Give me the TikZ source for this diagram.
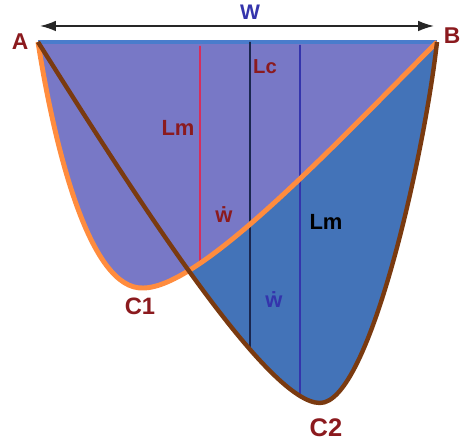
\documentclass[tikz,border=0pt]{standalone}
\usepackage{fontspec}
\setmainfont{Liberation Sans}
\usepackage{tikz}
\usetikzlibrary{arrows.meta, intersections}
\definecolor{mylav}{RGB}{120,120,198}
\definecolor{myblue}{RGB}{67,115,184}
\definecolor{mytop}{RGB}{74,124,204}
\definecolor{myorange}{RGB}{255,140,62}
\definecolor{mybrown}{RGB}{122,58,16}
\definecolor{mydarkred}{RGB}{139,26,30}
\definecolor{myindigo}{RGB}{52,52,172}
\definecolor{mypink}{RGB}{214,46,92}
\definecolor{mynavy}{RGB}{26,38,78}
\tikzset{
  ptlabel/.style={font=\bfseries\fontsize{13}{15}\selectfont, text=mydarkred, inner sep=0pt},
  lenlabel/.style={font=\bfseries\fontsize{12.5}{14}\selectfont, inner sep=0pt},
  orangecurve/.style={draw=myorange, line width=2.8pt},
  browncurve/.style={draw=mybrown, line width=2.5pt},
  vline/.style={line width=0.9pt},
  dimarrow/.style={{Latex[length=9pt,width=6pt]}-{Latex[length=9pt,width=6pt]}, line width=0.9pt, color=black!85}
}

\begin{document}
\begin{tikzpicture}[x=0.02cm, y=-0.02cm]
  \useasboundingbox (0,0) rectangle (464,445);

  % Points
  \coordinate (A) at (38,42);
  \coordinate (B) at (437,42);
  \coordinate (C1min) at (143,288);
  \coordinate (C2min) at (320,403);

  % Areas
  \fill[myblue, name path=c2] (A) .. controls (150,220) and (270,403) .. (C2min)
    .. controls (370,403) and (425,150) .. (B) -- cycle;
  \fill[mylav, name path=c1] (A) .. controls (55,150) and (90,290) .. (C1min)
    .. controls (200,288) and (330,150) .. (B) -- cycle;
  \draw[mytop, line width=2.3pt] (A) -- (B);

  % Lengths
  \path[name path=p1] (200,50) -- (200,440);
  \path[name path=p2] (250,50) -- (250,440);
  \path[name path=p3] (300,50) -- (300,440);
  \path[name intersections={of=p1 and c1, by=e1}];
  \path[name intersections={of=p2 and c2, by=e2}];
  \path[name intersections={of=p3 and c2, by=e3}];
  \coordinate (t1) at (200,46);
  \coordinate (t2) at (250,42);
  \coordinate (t3) at (300,45);
  \draw[vline, mypink] (t1) -- (e1);
  \draw[vline, mynavy] (t2) -- (e2);
  \draw[vline, myindigo] (t3) -- (e3);

  % Curves
  \draw[orangecurve] (A) .. controls (55,150) and (90,290) .. (C1min)
    .. controls (200,288) and (330,150) .. (B);
  \draw[browncurve] (A) .. controls (150,220) and (270,403) .. (C2min)
    .. controls (370,403) and (425,150) .. (B);

  % Width
  \coordinate (Wl) at (40,26);
  \coordinate (Wr) at (434,26);
  \draw[dimarrow] (Wl) -- (Wr);

  % Labels
  \node[lenlabel, text=myindigo, font=\bfseries\fontsize{12}{14}\selectfont] (lW) at (250,12) {W};
  \node[ptlabel] (lA) at (20,42) {A};
  \node[ptlabel] (lB) at (452,36) {B};
  \node[ptlabel, font=\bfseries\fontsize{13.5}{15}\selectfont] (lC1) at (140,306) {C1};
  \node[ptlabel, font=\bfseries\fontsize{14.5}{16}\selectfont] (lC2) at (326,428) {C2};
  \node[lenlabel, text=mydarkred] (lLm1) at (178,128) {Lm};
  \node[lenlabel, text=mydarkred, font=\bfseries\fontsize{11.5}{13}\selectfont] (lLc) at (265,67) {Lc};
  \node[lenlabel, text=black] (lLm2) at (326,222) {Lm};
  \node[lenlabel, text=mydarkred, anchor=base] (lw1) at (224,223) {\.{w}};
  \node[lenlabel, text=myindigo, anchor=base] (lw2) at (274,308) {\.{w}};
\end{tikzpicture}
\end{document}
